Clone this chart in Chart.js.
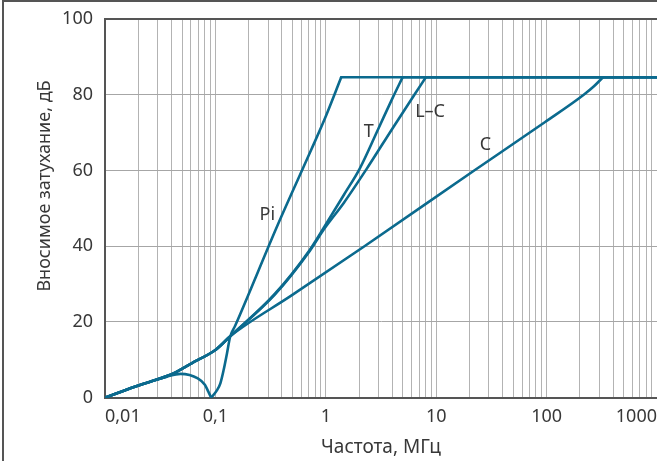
<!DOCTYPE html>
<html>
<head>
<meta charset="utf-8">
<script src="https://cdn.jsdelivr.net/npm/chart.js@4"></script>
<style>
  html, body { margin: 0; padding: 0; background: #fff; }
</style>
</head>
<body>
<canvas id="chart" width="657" height="461"></canvas>
<script>
// Вносимое затухание фильтров (дБ) в зависимости от частоты (МГц)

// общий участок для T, L–C и C до точки пересечения
const lowFreq = [0.01, 0.0186, 0.0268, 0.0416, 0.0646, 0.1, 0.136];
const lowAtt  = [0, 2.9, 4.4, 6.4, 9.5, 12.6, 16.2];

const piFreq = [0.01, 0.0186, 0.0268, 0.0359, 0.0482, 0.0693, 0.0803, 0.0863, 0.0916,
                0.1035, 0.1109, 0.1187, 0.1273, 0.136, 0.151, 0.369, 0.736, 0.968, 1.38, 1000];
const piAtt  = [0, 2.9, 4.4, 5.5, 6.3, 5.1, 3.4, 1.6, 0,
                2.0, 3.8, 7.3, 11.7, 16.1, 19.0, 45.8, 65.4, 73.3, 84.6, 84.6];

const tFreq = [0.345, 0.71, 0.968, 1.46, 2.03, 3.0, 4.05, 4.96, 1000];
const tAtt  = [27.4, 38.9, 45.1, 53.6, 60.5, 71.1, 79.3, 84.6, 84.6];

const lcFreq = [0.345, 0.71, 0.968, 1.46, 2.33, 4.1, 6.41, 8.06, 1000];
const lcAtt  = [27.2, 38.6, 44.6, 51.5, 60.3, 71.5, 80.2, 84.6, 84.6];

const cFreq = [0.49, 2.24, 22.1, 97, 217, 270, 324, 1000];
const cAtt  = [27.0, 40, 60, 72.8, 80, 82.3, 84.6, 84.6];

// подписи кривых (в координатах данных)
const curveNames = ['Pi', 'T', 'L–C', 'C'];
const nameFreq   = [0.295, 2.45, 8.8, 27.9];
const nameAtt    = [48.4, 70.3, 75.4, 66.7];

// оси
const xDecades      = [0.01, 0.1, 1, 10, 100, 1000];
const xDecadeLabels = ['0,01', '0,1', '1', '10', '100', '1000'];
const yTicks        = [0, 20, 40, 60, 80, 100];
const xTitle = 'Частота, МГц';
const yTitle = 'Вносимое затухание, дБ';

const LINE = '#0b6a8e';
const TEXT = '#383838';
const FONT = '"Noto Sans", "DejaVu Sans", sans-serif';

// вертикальная сетка: 1..9 в каждой декаде
const xGrid = [];
xDecades.forEach((d, i) => {
    xGrid.push(d);
    if (i < xDecades.length - 1) {
        for (let m = 2; m <= 9; m++) xGrid.push(parseFloat((d * m).toPrecision(6)));
    }
});

// кривая режется на гладкие куски по точкам излома (острые углы остаются острыми)
function curve(label, fr, at, breaks) {
    const cuts = [0].concat(breaks, [fr.length - 1]);
    const parts = [];
    for (let k = 0; k < cuts.length - 1; k++) {
        const data = [];
        for (let i = cuts[k]; i <= cuts[k + 1]; i++) data.push({ x: fr[i], y: at[i] });
        parts.push({
            label: label,
            data: data,
            borderColor: LINE,
            borderWidth: 2.6,
            borderCapStyle: 'round',
            pointRadius: 0,
            cubicInterpolationMode: 'monotone',
            fill: false
        });
    }
    return parts;
}

const tAllF = lowFreq.concat(tFreq), tAllA = lowAtt.concat(tAtt);
const lcAllF = lowFreq.concat(lcFreq), lcAllA = lowAtt.concat(lcAtt);
const cAllF = lowFreq.concat(cFreq), cAllA = lowAtt.concat(cAtt);

const framePlugin = {
    id: 'frame',
    beforeDraw(chart) {
        const c = chart.ctx;
        c.save();
        c.fillStyle = '#fff';
        c.fillRect(0, 0, chart.width, chart.height);
        c.strokeStyle = '#555';
        c.lineWidth = 2;
        c.beginPath();
        c.moveTo(3, chart.height);
        c.lineTo(3, 1);
        c.lineTo(chart.width, 1);
        c.stroke();
        c.restore();
    }
};

const namesPlugin = {
    id: 'names',
    afterDatasetsDraw(chart) {
        const c = chart.ctx;
        const sx = chart.scales.x, sy = chart.scales.y;
        c.save();
        c.font = '18px ' + FONT;
        c.fillStyle = TEXT;
        c.textAlign = 'center';
        c.textBaseline = 'middle';
        curveNames.forEach((n, i) => {
            c.fillText(n, sx.getPixelForValue(nameFreq[i]), sy.getPixelForValue(nameAtt[i]));
        });
        // подпись оси Y стоит чуть выше центра оси, как в оригинале
        c.translate(45, 186);
        c.rotate(-Math.PI / 2);
        c.fillText(yTitle, 0, 0);
        c.restore();
    }
};

new Chart(document.getElementById('chart'), {
    type: 'line',
    data: {
        datasets: [].concat(
            curve('Pi', piFreq, piAtt, [8, piFreq.length - 2]),
            curve('T', tAllF, tAllA, [tAllF.length - 2]),
            curve('L–C', lcAllF, lcAllA, [lcAllF.length - 2]),
            curve('C', cAllF, cAllA, [cAllF.length - 2])
        )
    },
    options: {
        responsive: false,
        animation: false,
        layout: { padding: { top: 19, left: 0, right: 0, bottom: 0 } },
        plugins: {
            legend: { display: false },
            tooltip: { enabled: false }
        },
        scales: {
            x: {
                type: 'logarithmic',
                min: 0.01,
                max: 1000,
                afterBuildTicks: s => { s.ticks = xGrid.map(v => ({ value: v })); },
                afterFit: s => { s.height = 63.3; },
                ticks: {
                    autoSkip: false,
                    maxRotation: 0,
                    align: 'inner',
                    padding: 0,
                    color: TEXT,
                    font: { family: FONT, size: 18 },
                    callback: v => {
                        const i = xDecades.indexOf(v);
                        return i < 0 ? '' : xDecadeLabels[i];
                    }
                },
                grid: {
                    color: '#b3b3b3',
                    lineWidth: 1,
                    drawTicks: true,
                    tickLength: 8,
                    tickColor: 'rgba(0,0,0,0)'
                },
                border: { color: '#555', width: 2 },
                title: {
                    display: true,
                    text: xTitle,
                    color: TEXT,
                    font: { family: FONT, size: 19 },
                    padding: { top: 0, bottom: 2 }
                }
            },
            y: {
                type: 'linear',
                min: 0,
                max: 100,
                afterBuildTicks: s => { s.ticks = yTicks.map(v => ({ value: v })); },
                afterFit: s => { s.width = 105; },
                ticks: {
                    padding: 0,
                    color: TEXT,
                    font: { family: FONT, size: 18 }
                },
                grid: {
                    color: c => (c.tick && c.tick.value === 100) ? '#555' : '#a6a6a6',
                    lineWidth: c => (c.tick && c.tick.value === 100) ? 2 : 1,
                    drawTicks: true,
                    tickLength: 12,
                    tickColor: 'rgba(0,0,0,0)'
                },
                border: { color: '#555', width: 2 },
                title: { display: false }
            }
        }
    },
    plugins: [framePlugin, namesPlugin]
});
</script>
</body>
</html>
